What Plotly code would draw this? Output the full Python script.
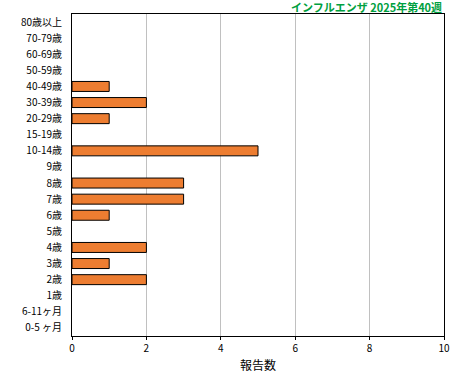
import plotly.graph_objects as go

categories = ["0-5 ヶ月", "6-11ヶ月", "1歳", "2歳", "3歳", "4歳", "5歳", "6歳", "7歳", "8歳",
              "9歳", "10-14歳", "15-19歳", "20-29歳", "30-39歳", "40-49歳", "50-59歳",
              "60-69歳", "70-79歳", "80歳以上"]
values = [0, 0, 0, 2, 1, 2, 0, 1, 3, 3, 0, 5, 0, 1, 2, 1, 0, 0, 0, 0]
x_ticks = [0, 2, 4, 6, 8, 10]
title_text = "インフルエンザ 2025年第40週"
x_title = "報告数"

fig = go.Figure(go.Bar(
    y=categories, x=values, orientation="h",
    marker=dict(color="#ED7D31",
                line=dict(color="black", width=[1 if v > 0 else 0 for v in values])),
))

font = "Noto Sans CJK JP, sans-serif"
fig.update_layout(
    width=460, height=380,
    margin=dict(l=72, r=16, t=14, b=44, autoexpand=False),
    plot_bgcolor="white", paper_bgcolor="white",
    bargap=0.38,
    showlegend=False,
    font=dict(family=font, size=10, color="black"),
    xaxis=dict(range=[0, 10], tickvals=x_ticks, showgrid=True, gridcolor="#c0c0c0", gridwidth=1,
               showline=True, linecolor="black", linewidth=1, mirror=True,
               ticks="outside", ticklen=3, tickcolor="black", zeroline=False,
               automargin=False,
               title=dict(text=x_title, font=dict(size=12), standoff=7),
               tickfont=dict(size=10)),
    yaxis=dict(categoryorder="array", categoryarray=categories, showgrid=False,
               showline=True, linecolor="black", linewidth=1, mirror=True,
               ticks="", ticklabelstandoff=7, tickfont=dict(size=10),
               automargin=False,
               range=[-0.5, len(categories) - 0.5]),
    annotations=[dict(text="<b>" + title_text + "</b>", x=1, xref="paper", xanchor="right",
                      y=1, yref="paper", yanchor="bottom", yshift=-3, showarrow=False,
                      font=dict(color="#00a040", size=11, family=font))],
)

fig.write_html("out.html", config={"displayModeBar": False},
               post_script="document.body.style.margin='0';document.body.style.overflow='hidden';")
